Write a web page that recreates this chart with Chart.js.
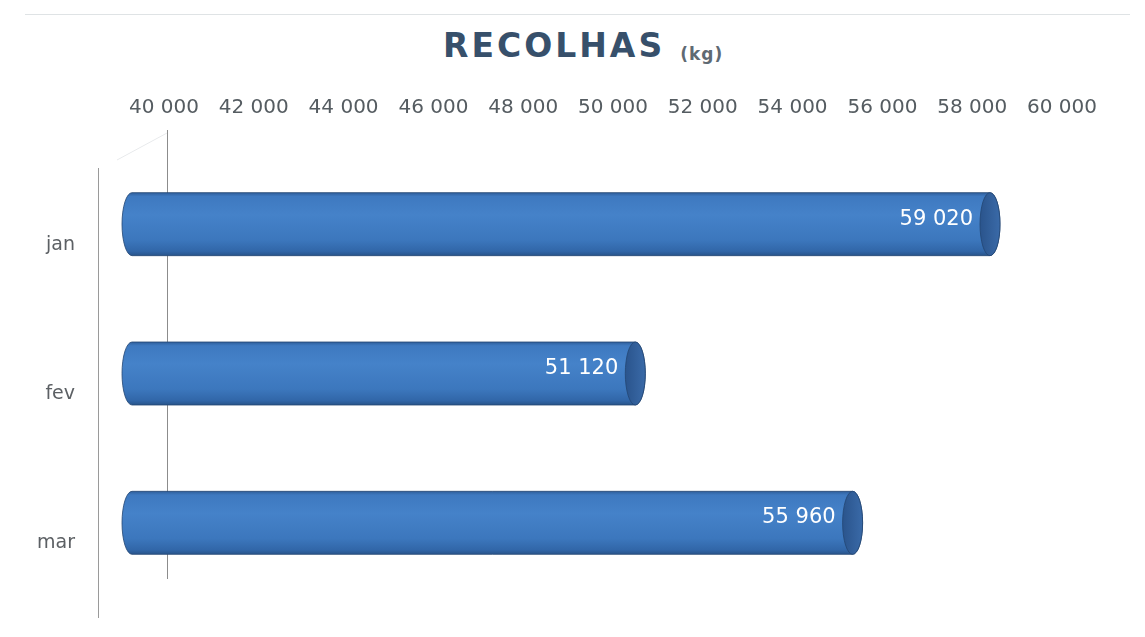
<!DOCTYPE html>
<html>
<head>
<meta charset="utf-8">
<script src="https://cdn.jsdelivr.net/npm/chart.js@4.4.0/dist/chart.umd.min.js"></script>
<style>
  html, body { margin: 0; padding: 0; background: #fff; }
  #wrap { position: relative; width: 1145px; height: 637px; overflow: hidden; }
  #topline { position: absolute; left: 25px; top: 14px; width: 1105px; border-top: 1px solid #dfe3e5; }
  #title { position: absolute; left: 443px; top: 30px; line-height: 32px; white-space: nowrap;
           font-family: "DejaVu Sans", sans-serif; font-weight: bold; }
  #title .main { font-size: 33px; letter-spacing: 3px; color: #37506b; }
  #title .unit { font-size: 17px; letter-spacing: 1px; color: #5f6a73; margin-left: 15px; position: relative; top: 3px; }
  canvas { position: absolute; left: 0; top: 0; }
</style>
</head>
<body>
<div id="wrap">
  <div id="topline"></div>
  <div id="title"><span class="main">RECOLHAS</span><span class="unit">(kg)</span></div>
  <canvas id="recolhas-chart" width="1145" height="637"></canvas>
</div>
<script>
const categories = ['jan', 'fev', 'mar'];
const recolhas = [59020, 51120, 55960];
const xTickValues = [40000, 42000, 44000, 46000, 48000, 50000, 52000, 54000, 56000, 58000, 60000];

// 3D look: bars sit halfway between the back wall and the front wall
const DEPTH_Y = 19.5;
const START_DX = -45;
const END_DX = -21;

function fmt(v){
  return String(v).replace(/\B(?=(\d{3})+(?!\d))/g, ' ');
}

function drawCylinder(ctx, left, right, cy, h){
  let rx = 10, ry = h / 2;
  let x0 = left + rx, x1 = right - rx;
  let top = cy - ry, bot = cy + ry;

  let g = ctx.createLinearGradient(0, top, 0, bot);
  g.addColorStop(0, '#2f5f9c');
  g.addColorStop(0.06, '#3e79c0');
  g.addColorStop(0.35, '#4582c9');
  g.addColorStop(0.75, '#3c77bd');
  g.addColorStop(0.93, '#3166a8');
  g.addColorStop(1, '#28548a');

  ctx.save();
  ctx.beginPath();
  ctx.moveTo(x0, top);
  ctx.lineTo(x1, top);
  ctx.ellipse(x1, cy, rx, ry, 0, -Math.PI / 2, Math.PI / 2);
  ctx.lineTo(x0, bot);
  ctx.ellipse(x0, cy, rx, ry, 0, Math.PI / 2, Math.PI * 1.5);
  ctx.closePath();
  ctx.fillStyle = g;
  ctx.fill();
  ctx.strokeStyle = 'rgba(35,70,115,0.8)';
  ctx.lineWidth = 1;
  ctx.stroke();

  // end face
  ctx.beginPath();
  ctx.ellipse(x1, cy, rx, ry, 0, 0, Math.PI * 2);
  let fg = ctx.createLinearGradient(x1 - rx, 0, x1 + rx, 0);
  fg.addColorStop(0, '#2a548c');
  fg.addColorStop(1, '#3a6aa8');
  ctx.fillStyle = fg;
  ctx.fill();
  ctx.stroke();
  ctx.restore();
}

const cylinderBars = {
  id: 'cylinderBars',
  beforeDatasetsDraw(chart){
    // front wall edge of the 3D frame
    let ctx = chart.ctx, a = chart.chartArea;
    ctx.save();
    ctx.strokeStyle = '#9a9a9a';
    ctx.lineWidth = 1;
    ctx.beginPath();
    ctx.moveTo(a.left - 68.5, a.top + 38);
    ctx.lineTo(a.left - 68.5, a.bottom + 40);
    ctx.stroke();
    ctx.strokeStyle = '#e8eaec';
    ctx.beginPath();
    ctx.moveTo(a.left - 50, a.top + 30);
    ctx.lineTo(a.left, a.top + 3);
    ctx.stroke();
    ctx.restore();
  },
  beforeDatasetDraw(chart, args){
    let ctx = chart.ctx;
    args.meta.data.forEach(bar => {
      drawCylinder(ctx, bar.base + START_DX, bar.x + END_DX, bar.y + DEPTH_Y, bar.height);
    });
    return false;
  },
  afterDatasetsDraw(chart){
    let ctx = chart.ctx;
    let meta = chart.getDatasetMeta(0);
    ctx.save();
    ctx.font = '21px "DejaVu Sans", sans-serif';
    ctx.fillStyle = '#ffffff';
    ctx.textAlign = 'right';
    ctx.textBaseline = 'middle';
    meta.data.forEach((bar, i) => {
      ctx.fillText(fmt(recolhas[i]), bar.x + END_DX - 27, bar.y + DEPTH_Y - 5);
    });
    ctx.restore();
  }
};

let config = {
  type: 'bar',
  data: {
    labels: categories,
    datasets: [{
      label: 'Recolhas (kg)',
      data: recolhas,
      base: 40000,
      backgroundColor: '#3f7bc3',
      barThickness: 63
    }]
  },
  options: {
    indexAxis: 'y',
    responsive: false,
    animation: false,
    layout: { padding: { left: 0, right: 80, top: 80, bottom: 59 } },
    plugins: {
      legend: { display: false },
      tooltip: { enabled: false }
    },
    scales: {
      x: {
        position: 'top',
        min: 40000,
        max: 60000,
        afterBuildTicks: s => { s.ticks = xTickValues.map(v => ({ value: v })); },
        afterFit: s => { s.height = 50; },
        grid: { display: false, drawTicks: false },
        border: { display: false },
        ticks: {
          padding: 10,
          labelOffset: -3,
          color: '#555c61',
          font: { family: '"DejaVu Sans", sans-serif', size: 20 },
          callback: v => fmt(v)
        }
      },
      y: {
        afterFit: s => { s.width = 167; s.paddingTop = 0; s.paddingBottom = 0; },
        grid: { display: false, drawTicks: false },
        border: { display: true, color: '#8c8c8c', width: 1 },
        ticks: {
          padding: 92,
          labelOffset: 40,
          color: '#5c6064',
          font: { family: '"DejaVu Sans", sans-serif', size: 19 }
        }
      }
    }
  },
  plugins: [cylinderBars]
};

var myChart = new Chart(document.getElementById('recolhas-chart'), config);
</script>
</body>
</html>
